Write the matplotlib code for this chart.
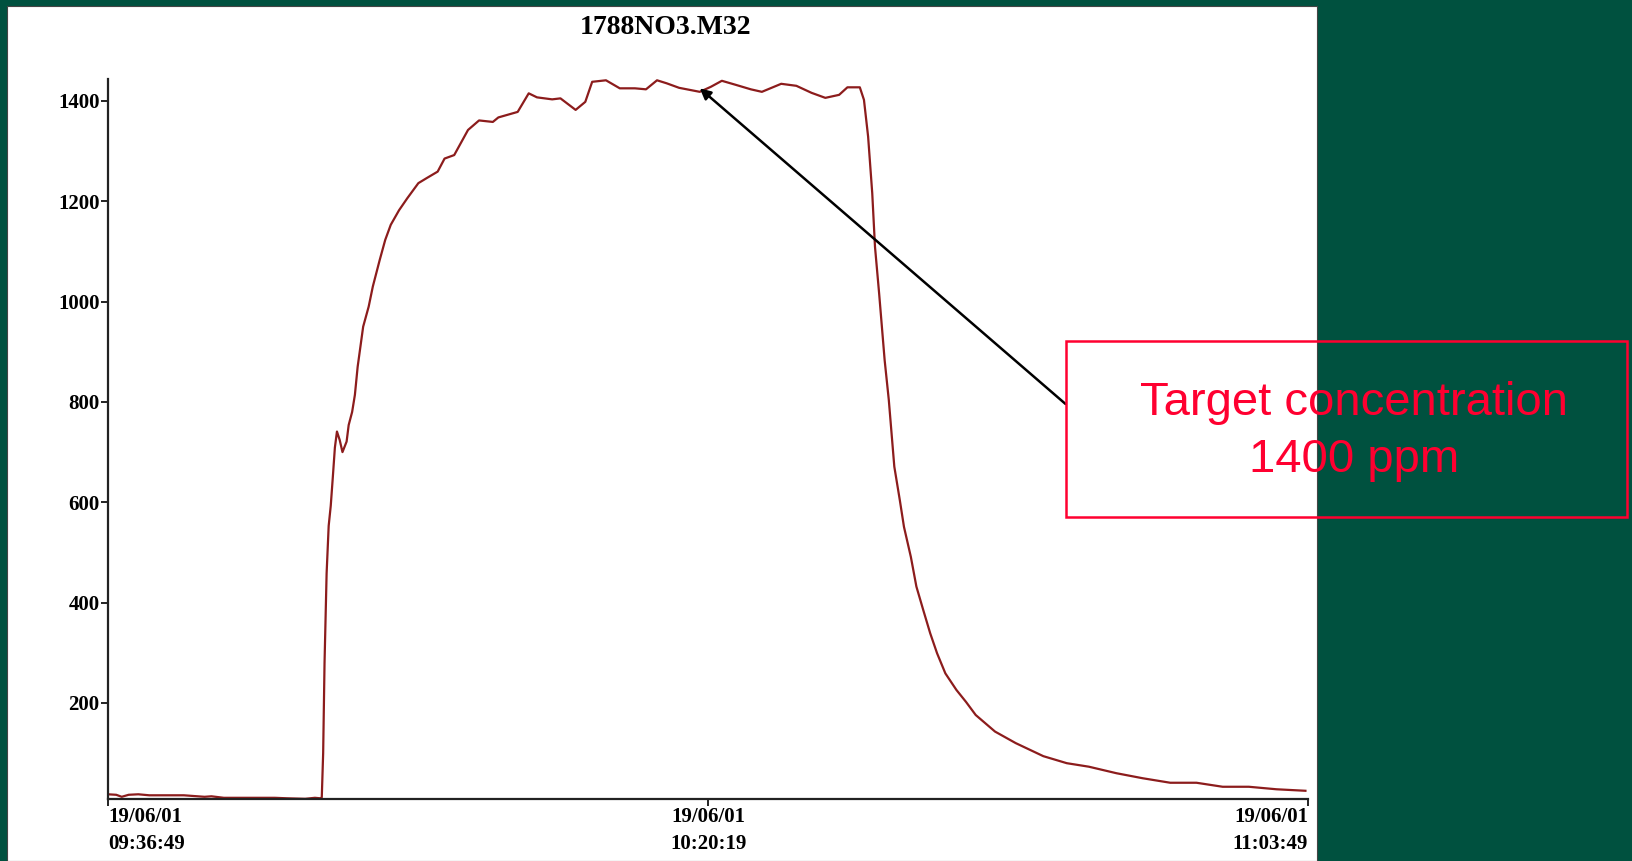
import matplotlib
matplotlib.use("Agg")
import matplotlib.pyplot as plt
from matplotlib.patches import Rectangle

# minutes after 09:36:49 and measured concentration (ppm)
minutes = [0.0, 0.6, 1.0, 1.5, 2.2, 3.0, 4.4, 5.5, 7.0, 7.5, 8.4, 10.0, 12.1, 13.0,
           14.3, 15.0, 15.4, 15.5,
           15.6, 15.7, 15.85, 16.0, 16.15, 16.3, 16.45, 16.6, 16.8, 17.0, 17.3, 17.45,
           17.7, 17.9, 18.1, 18.5, 18.9, 19.2, 19.7, 20.1, 20.5, 21.1, 21.7, 22.5,
           23.1, 23.9, 24.4, 25.1, 26.1, 26.9, 27.9, 28.3, 29.7, 30.5, 31.1, 32.2,
           32.8, 33.9, 34.6, 35.1, 36.1, 37.1, 38.2, 39.0, 39.8, 40.5, 41.4, 42.9,
           43.7, 44.5, 45.5, 46.6, 47.4, 48.8, 49.9, 51.0, 52.0, 53.0, 53.6, 54.5,
           54.8, 55.1, 55.4, 55.6, 55.9, 56.3, 56.6, 57.0, 57.4, 57.7, 58.2, 58.6,
           59.1, 59.6, 60.1, 60.7, 61.5, 62.2, 62.9, 64.3, 65.8, 67.8, 69.5, 71.1,
           73.1, 75.0, 77.0, 78.9, 80.8, 82.7, 84.7, 86.8]
ppm = [18, 17, 13, 17, 18, 16, 16, 16, 13, 14, 11, 11, 11, 10,
       9, 11, 10, 12,
       100, 280, 458, 553, 593, 650, 709, 741, 724, 700, 721, 754,
       780, 814, 870, 950, 990, 1030, 1083, 1123, 1153, 1182, 1206, 1236,
       1246, 1259, 1285, 1292, 1342, 1361, 1358, 1367, 1378, 1415, 1407, 1403,
       1405, 1382, 1398, 1438, 1441, 1425, 1425, 1423, 1441, 1435, 1426, 1418,
       1428, 1440, 1432, 1423, 1418, 1434, 1430, 1416, 1406, 1412, 1427, 1427,
       1402, 1329, 1216, 1109, 1016, 883, 804, 671, 604, 551, 491, 432,
       385, 339, 299, 259, 226, 202, 176, 143, 120, 94, 80, 73,
       60, 50, 41, 41, 33, 33, 28, 25]

tick_minutes = [0.0, 43.5, 87.0]
tick_labels = ["19/06/01\n09:36:49", "19/06/01\n10:20:19", "19/06/01\n11:03:49"]
y_ticks = [200, 400, 600, 800, 1000, 1200, 1400]

title = "1788NO3.M32"
note = "Target concentration\n1400 ppm"
target_point = (42.9, 1425)

BG = "#00513f"
LINE = "#8c1c1c"
RED = "#ff0030"


def main():
    fig = plt.figure(figsize=(16.33, 8.61), dpi=100)
    fig.patch.set_facecolor(BG)

    # white chart panel
    fig.add_artist(Rectangle((0.0043, 0.0), 0.8022, 0.993, transform=fig.transFigure,
                             facecolor="white", edgecolor="#444444", lw=0.8, zorder=-1))

    ax = fig.add_axes([0.0661, 0.072, 0.735, 0.8362])
    ax.set_facecolor("white")
    ax.plot(minutes, ppm, color=LINE, lw=1.6)

    ax.set_xlim(0, 87)
    ax.set_ylim(8.6, 1443.5)
    for side in ("top", "right"):
        ax.spines[side].set_visible(False)
    for side in ("left", "bottom"):
        ax.spines[side].set_color("#222222")
        ax.spines[side].set_linewidth(1.6)

    ax.set_yticks(y_ticks)
    ax.set_yticklabels([str(v) for v in y_ticks])
    ax.set_xticks(tick_minutes)
    ax.set_xticklabels(tick_labels, linespacing=1.45)
    for lab, ha in zip(ax.get_xticklabels(), ("left", "center", "right")):
        lab.set_horizontalalignment(ha)
    ax.tick_params(axis="both", direction="out", length=5, width=1.4, color="#222222",
                   labelsize=15, pad=1)
    for lab in ax.get_xticklabels() + ax.get_yticklabels():
        lab.set_fontfamily("Liberation Serif")
        lab.set_fontweight("bold")

    fig.text(0.4078, 0.9686, title, ha="center", va="center", fontsize=20,
             family="Liberation Serif", fontweight="bold")

    # annotation arrow and box
    ax.annotate("", xy=target_point, xycoords="data",
                xytext=(0.6525, 0.5308), textcoords="figure fraction",
                arrowprops=dict(arrowstyle="-|>", color="black", lw=1.8,
                                mutation_scale=16, shrinkA=0, shrinkB=0),
                annotation_clip=False)
    fig.add_artist(Rectangle((0.6525, 0.40), 0.3438, 0.2044, transform=fig.transFigure,
                             fill=False, edgecolor=RED, lw=1.8, zorder=5))
    fig.text(0.829, 0.499, note, ha="center", va="center", multialignment="center",
             fontsize=34, family="Liberation Sans", color=RED, linespacing=1.39, zorder=6)

    fig.savefig("out.png", dpi=100, facecolor=BG)
    plt.close(fig)


if __name__ == "__main__":
    main()
